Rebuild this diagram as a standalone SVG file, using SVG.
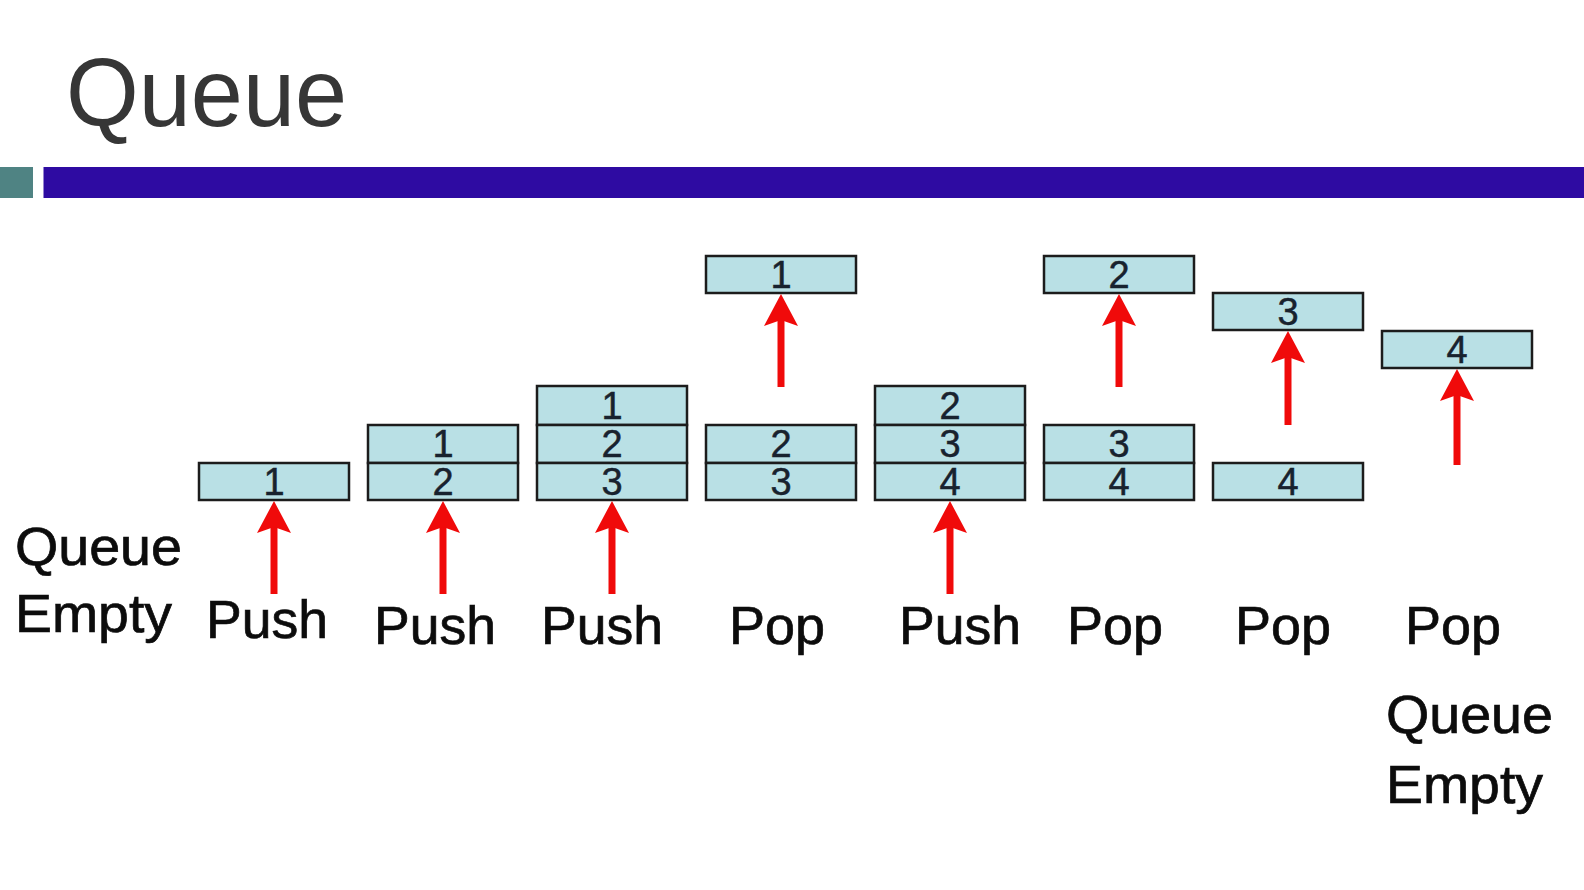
<svg xmlns="http://www.w3.org/2000/svg" width="1584" height="890" viewBox="0 0 1584 890">
<style>
.cell{fill:#b9e0e5;stroke:#1c1c1c;stroke-width:2.5}
.num{font-family:"Liberation Sans",Arial,sans-serif;font-size:38px;fill:#18222e;stroke:#18222e;stroke-width:0.5;text-anchor:middle}
.lbl{font-family:"Liberation Sans",Arial,sans-serif;font-size:53px;fill:#0c0c0c;stroke:#0c0c0c;stroke-width:0.7}
.arr{stroke:#f00a0a;stroke-width:7;fill:none;marker-end:url(#head)}
</style>
<defs>
<marker id="head" markerUnits="userSpaceOnUse" markerWidth="32" markerHeight="34" viewBox="0 0 32 34" refX="6" refY="17" orient="auto">
<path d="M0,0 L32,17 L0,34 L6,17 Z" fill="#f00a0a"/>
</marker>
</defs>
<rect width="1584" height="890" fill="#ffffff"/>
<text x="66" y="126" font-family="'Liberation Sans',Arial,sans-serif" font-size="96" fill="#363636" textLength="281" lengthAdjust="spacingAndGlyphs">Queue</text>
<rect x="0" y="167" width="33" height="31" fill="#4f8383"/>
<rect x="43.5" y="167" width="1541" height="31" fill="#2e0ba2"/>

<g id="step1">
<rect class="cell" x="199" y="463" width="150" height="37"/><text class="num" x="274" y="495">1</text>
</g>
<g id="step2">
<rect class="cell" x="368" y="425" width="150" height="38"/><text class="num" x="443" y="457">1</text>
<rect class="cell" x="368" y="463" width="150" height="37"/><text class="num" x="443" y="495">2</text>
</g>
<g id="step3">
<rect class="cell" x="537" y="386" width="150" height="39"/><text class="num" x="612" y="419">1</text>
<rect class="cell" x="537" y="425" width="150" height="38"/><text class="num" x="612" y="457">2</text>
<rect class="cell" x="537" y="463" width="150" height="37"/><text class="num" x="612" y="495">3</text>
</g>
<g id="step4">
<rect class="cell" x="706" y="256" width="150" height="37"/><text class="num" x="781" y="288">1</text>
<rect class="cell" x="706" y="425" width="150" height="38"/><text class="num" x="781" y="457">2</text>
<rect class="cell" x="706" y="463" width="150" height="37"/><text class="num" x="781" y="495">3</text>
</g>
<g id="step5">
<rect class="cell" x="875" y="386" width="150" height="39"/><text class="num" x="950" y="419">2</text>
<rect class="cell" x="875" y="425" width="150" height="38"/><text class="num" x="950" y="457">3</text>
<rect class="cell" x="875" y="463" width="150" height="37"/><text class="num" x="950" y="495">4</text>
</g>
<g id="step6">
<rect class="cell" x="1044" y="256" width="150" height="37"/><text class="num" x="1119" y="288">2</text>
<rect class="cell" x="1044" y="425" width="150" height="38"/><text class="num" x="1119" y="457">3</text>
<rect class="cell" x="1044" y="463" width="150" height="37"/><text class="num" x="1119" y="495">4</text>
</g>
<g id="step7">
<rect class="cell" x="1213" y="293" width="150" height="37"/><text class="num" x="1288" y="325">3</text>
<rect class="cell" x="1213" y="463" width="150" height="37"/><text class="num" x="1288" y="495">4</text>
</g>
<g id="step8">
<rect class="cell" x="1382" y="331" width="150" height="37"/><text class="num" x="1457" y="363">4</text>
</g>

<g id="connectors">
<line class="arr" x1="274" y1="594" x2="274" y2="527"/>
<line class="arr" x1="443" y1="594" x2="443" y2="527"/>
<line class="arr" x1="612" y1="594" x2="612" y2="527"/>
<line class="arr" x1="781" y1="387" x2="781" y2="320"/>
<line class="arr" x1="950" y1="594" x2="950" y2="527"/>
<line class="arr" x1="1119" y1="387" x2="1119" y2="320"/>
<line class="arr" x1="1288" y1="425" x2="1288" y2="357"/>
<line class="arr" x1="1457" y1="465" x2="1457" y2="395"/>
</g>

<g id="labels">
<text class="lbl" x="15" y="565" textLength="167" lengthAdjust="spacingAndGlyphs">Queue</text>
<text class="lbl" x="15" y="632" textLength="157" lengthAdjust="spacingAndGlyphs">Empty</text>
<text class="lbl" x="206" y="638" textLength="122" lengthAdjust="spacingAndGlyphs">Push</text>
<text class="lbl" x="374" y="644" textLength="122" lengthAdjust="spacingAndGlyphs">Push</text>
<text class="lbl" x="541" y="644" textLength="122" lengthAdjust="spacingAndGlyphs">Push</text>
<text class="lbl" x="729" y="644" textLength="96" lengthAdjust="spacingAndGlyphs">Pop</text>
<text class="lbl" x="899" y="644" textLength="122" lengthAdjust="spacingAndGlyphs">Push</text>
<text class="lbl" x="1067" y="644" textLength="96" lengthAdjust="spacingAndGlyphs">Pop</text>
<text class="lbl" x="1235" y="644" textLength="96" lengthAdjust="spacingAndGlyphs">Pop</text>
<text class="lbl" x="1405" y="644" textLength="96" lengthAdjust="spacingAndGlyphs">Pop</text>
<text class="lbl" x="1386" y="733" textLength="167" lengthAdjust="spacingAndGlyphs">Queue</text>
<text class="lbl" x="1386" y="803" textLength="157" lengthAdjust="spacingAndGlyphs">Empty</text>
</g>
</svg>
